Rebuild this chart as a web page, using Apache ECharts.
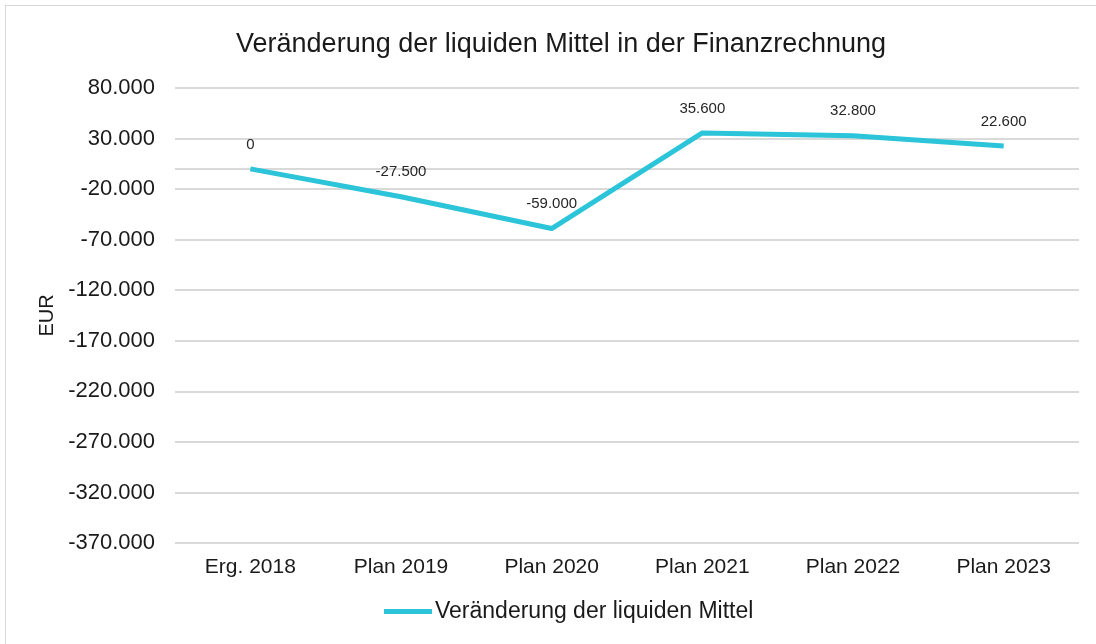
<!DOCTYPE html>
<html>
<head>
<meta charset="utf-8">
<script src="https://cdn.jsdelivr.net/npm/echarts@6/dist/echarts.min.js"></script>
<style>
  html, body { margin: 0; padding: 0; background: #fff; }
  #frame {
    position: absolute; left: 5px; top: 5px; width: 1100px; height: 650px;
    border: 1px solid #d9d9d9; box-sizing: border-box;
  }
  #chart { position: absolute; left: 0; top: 0; width: 1096px; height: 644px; }
</style>
</head>
<body>
<div id="frame"></div>
<div id="chart"></div>
<script>
// Kategorien und Werte
var categories = ["Erg. 2018", "Plan 2019", "Plan 2020", "Plan 2021", "Plan 2022", "Plan 2023"];
var liquideMittel = [0, -27500, -59000, 35600, 32800, 22600];
var seriesName = "Veränderung der liquiden Mittel";

// Tausenderpunkt wie im Original
function fmt(v) {
  var neg = v < 0;
  var s = String(Math.abs(Math.round(v))).replace(/\B(?=(\d{3})+(?!\d))/g, ".");
  return (neg ? "-" : "") + s;
}

var myChart = echarts.init(document.getElementById("chart"));

var option = {
  textStyle: { fontFamily: "Liberation Sans, Arial, sans-serif" },
  title: {
    text: "Veränderung der liquiden Mittel in der Finanzrechnung",
    left: 556,
    textAlign: "center",
    top: 26,
    textStyle: { fontSize: 27, fontWeight: "normal", color: "#1a1a1a" }
  },
  legend: {
    bottom: 16,
    left: 379,
    itemWidth: 48,
    itemHeight: 5,
    itemGap: 10,
    icon: "rect",
    textStyle: { fontSize: 23, color: "#1a1a1a", padding: [0, 0, 0, -2] },
    data: [seriesName]
  },
  grid: { left: 175, right: 17, top: 88, bottom: 101 },
  xAxis: {
    type: "category",
    data: categories,
    boundaryGap: true,
    axisLine: { show: false },
    axisTick: { show: false },
    axisLabel: { fontSize: 21, color: "#1a1a1a", margin: 14 }
  },
  yAxis: {
    type: "value",
    min: -370000,
    max: 80000,
    interval: 50000,
    name: "EUR",
    nameLocation: "middle",
    nameRotate: 90,
    nameGap: 112,
    nameTextStyle: { fontSize: 20, color: "#1a1a1a" },
    axisLine: { show: false },
    axisTick: { show: false },
    axisLabel: { fontSize: 22, color: "#1a1a1a", margin: 20, formatter: fmt },
    splitLine: { lineStyle: { color: "#d9d9d9", width: 2 } }
  },
  series: [
    {
      name: seriesName,
      type: "line",
      data: liquideMittel,
      symbol: "circle",
      symbolSize: 0,
      showSymbol: true,
      lineStyle: { color: "#2bc4d8", width: 5 },
      itemStyle: { color: "#2bc4d8" },
      label: {
        show: true,
        position: "top",
        distance: 17,
        fontSize: 15,
        color: "#262626",
        formatter: function (p) { return fmt(p.value); }
      },
      markLine: {
        silent: true,
        symbol: "none",
        label: { show: false },
        lineStyle: { color: "#d9d9d9", width: 2, type: "solid" },
        data: [{ yAxis: 0 }],
        z: 1
      },
      z: 3
    }
  ]
};

myChart.setOption(option);
</script>
</body>
</html>
